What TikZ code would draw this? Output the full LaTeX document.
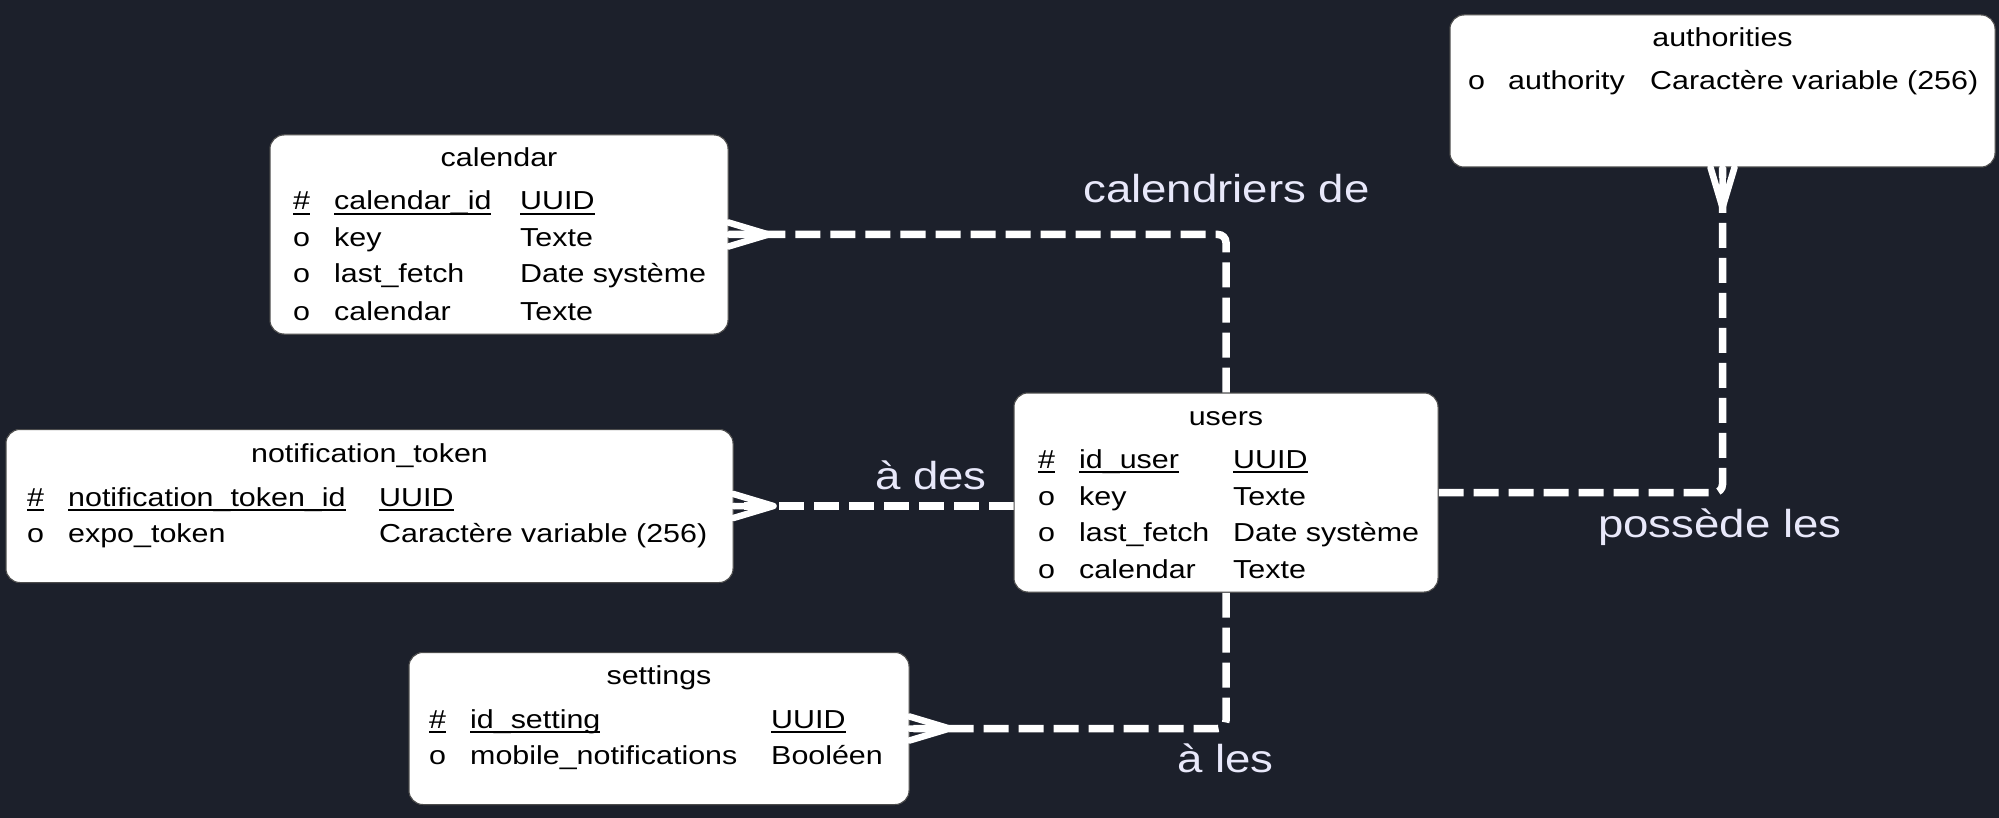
\documentclass[tikz,border=0pt]{standalone}
\usepackage{fontspec}
\setmainfont{Liberation Sans}[FakeStretch=1.17]
\usetikzlibrary{calc}
\definecolor{bgcol}{RGB}{28,32,43}
\definecolor{labelcol}{RGB}{232,232,250}
\newcommand\keyul[1]{\setbox0\hbox{#1}\rlap{\vrule height -3pt depth 5.2pt width \wd0}\box0}
\newcommand\attrrow[8]{%
  \node[etext] (#1m) at (#2,#5) {#6};
  \node[etext] (#1n) at (#3,#5) {#7};
  \node[etext] (#1t) at (#4,#5) {#8};}
\begin{document}
\begin{tikzpicture}[x=1pt,y=-1pt,
  entity/.style={draw=black!70, line width=1pt, fill=white, rounded corners=14pt, inner sep=0pt},
  etext/.style={anchor=base west, inner sep=0pt, font=\fontsize{26}{30}\selectfont, text=black},
  etitle/.style={anchor=base, inner sep=0pt, font=\fontsize{26}{30}\selectfont, text=black},
  rel/.style={draw=white, line width=7.5pt, dash pattern=on 25pt off 10pt, rounded corners=8pt},
  foot/.style={draw=white, line width=6.5pt, line join=round, line cap=round},
  rellabel/.style={anchor=base west, inner sep=0pt, text=labelcol, font=\fontsize{39}{44}\selectfont}]
\fill[bgcol] (0,0) rectangle (1999,818);
\useasboundingbox (0,0) rectangle (1999,818);

% entity boxes
\node[entity, minimum width=458pt, minimum height=199pt] (calendar) at (499,234.5) {};
\node[entity, minimum width=727pt, minimum height=153pt] (notif) at (369.5,506) {};
\node[entity, minimum width=500pt, minimum height=152pt] (settings) at (659,728.5) {};
\node[entity, minimum width=424pt, minimum height=199pt] (users) at (1226,492.5) {};
\node[entity, minimum width=545pt, minimum height=152pt] (authorities) at (1722.5,91) {};

% connectors
\draw[rel] (users.north) |- (calendar.east);
\draw[rel] (users.west |- notif.east) -- (notif.east);
\draw[rel] (users.south) |- (settings.east);
\draw[rel] (users.east) -| (authorities.south);

% redraw boxes on top of connector ends
\node[entity, minimum width=458pt, minimum height=199pt] at (calendar) {};
\node[entity, minimum width=727pt, minimum height=153pt] at (notif) {};
\node[entity, minimum width=500pt, minimum height=152pt] at (settings) {};
\node[entity, minimum width=424pt, minimum height=199pt] at (users) {};
\node[entity, minimum width=545pt, minimum height=152pt] at (authorities) {};

% crow's feet
\draw[foot] ([yshift=12pt]calendar.east) -- ([xshift=40pt]calendar.east) -- ([yshift=-12pt]calendar.east)
            (calendar.east) -- ([xshift=40pt]calendar.east);
\draw[foot] ([yshift=12pt]notif.east) -- ([xshift=40pt]notif.east) -- ([yshift=-12pt]notif.east)
            (notif.east) -- ([xshift=40pt]notif.east);
\draw[foot] ([yshift=12pt]settings.east) -- ([xshift=40pt]settings.east) -- ([yshift=-12pt]settings.east)
            (settings.east) -- ([xshift=40pt]settings.east);
\draw[foot] ([xshift=-12pt]authorities.south) -- ([yshift=-40pt]authorities.south) -- ([xshift=12pt]authorities.south)
            (authorities.south) -- ([yshift=-40pt]authorities.south);

% calendar
\node[etitle] (cal-title) at (499,167) {calendar};
\attrrow{cal-1}{293}{334}{520}{210}{\keyul{\#}}{\keyul{calendar\_id}}{\keyul{UUID}}
\attrrow{cal-2}{293}{334}{520}{247}{o}{key}{Texte}
\attrrow{cal-3}{293}{334}{520}{283}{o}{last\_fetch}{Date système}
\attrrow{cal-4}{293}{334}{520}{320}{o}{calendar}{Texte}

% users
\node[etitle] (usr-title) at (1226,425) {users};
\attrrow{usr-1}{1038}{1079}{1233}{468}{\keyul{\#}}{\keyul{id\_user}}{\keyul{UUID}}
\attrrow{usr-2}{1038}{1079}{1233}{505}{o}{key}{Texte}
\attrrow{usr-3}{1038}{1079}{1233}{541.5}{o}{last\_fetch}{Date système}
\attrrow{usr-4}{1038}{1079}{1233}{578}{o}{calendar}{Texte}

% notification_token
\node[etitle] (not-title) at (369.5,462) {notification\_token};
\attrrow{not-1}{27}{68}{379}{506}{\keyul{\#}}{\keyul{notification\_token\_id}}{\keyul{UUID}}
\attrrow{not-2}{27}{68}{379}{542.5}{o}{expo\_token}{Caractère variable (256)}

% settings
\node[etitle] (set-title) at (659,684) {settings};
\attrrow{set-1}{429}{470}{771}{728}{\keyul{\#}}{\keyul{id\_setting}}{\keyul{UUID}}
\attrrow{set-2}{429}{470}{771}{764}{o}{mobile\_notifications}{Booléen}

% authorities
\node[etitle] (aut-title) at (1722.5,47) {authorities};
\attrrow{aut-1}{1468}{1508}{1650}{90}{o}{authority}{Caractère variable (256)}

% relation labels
\node[rellabel] (lab-cal) at (1083,203) {calendriers de};
\node[rellabel] (lab-not) at (875,489) {à des};
\node[rellabel] (lab-set) at (1177,772) {à les};
\node[rellabel] (lab-aut) at (1598,537) {possède les};
\end{tikzpicture}
\end{document}
